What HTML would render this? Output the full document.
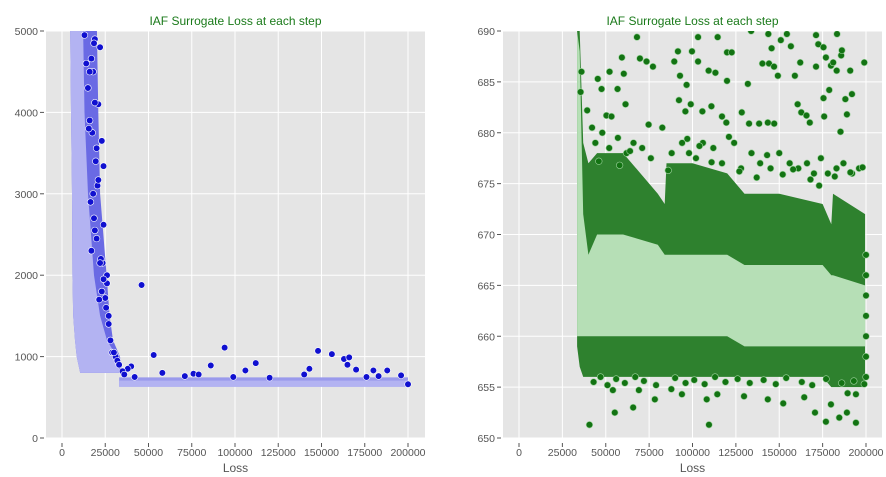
<!DOCTYPE html>
<html><head><meta charset="utf-8">
<style>
html,body{margin:0;padding:0;background:#fff;}
svg{display:block;font-family:"Liberation Sans",sans-serif;}
</style></head>
<body>
<svg id="chart" width="886" height="477"></svg>
<script>
// ---- Left panel data ----
const leftXTicks = [0,25000,50000,75000,100000,125000,150000,175000,200000];
const leftYTicks = [0,1000,2000,3000,4000,5000];
const leftRowY     = [5000,4000,3000,2000,1500,1200,1000,850,800];
const leftLavLeft  = [4600,5200,5800,6000,6500,7500,8500,10000,10500];
const leftLavRight = [12000,13000,15000,18500,22000,26000,31600,33000,33000];
const leftDotRight = [20000,21000,22000,25800,27500,29500,33500,34500,34500];
const leftFlatX = [33000,200000];
const leftFlatLo = [630,630];
const leftFlatHi = [705,705];
const leftOutX = [46000,53000,94000,112000,86000,148000,156000,163000,166000,165000,143000,106000,58000,170000,180000,188000,76000,79000,140000,200000,22000,24000,23000,21000,24000,26000,27000,28000,26000,20500,19000,18000,23500,25000,71000,99000,120000,176000,196000,183000,40000,38000,42000,17000,18500,16000,19000,20000,17500,15500,18000,21000,19500,16500,22500,20000,18500,24000,25500,21500,17000,15000,16000,14000,19000,13000,23000,22000,27000,29000,31000,30000,32000,33000,35000,36000];
const leftOutY = [1880,1020,1110,920,890,1070,1030,970,990,900,850,830,800,840,830,830,790,780,780,660,4800,3340,3650,4100,2620,1900,1500,1200,2000,3100,4900,4500,2150,1720,760,750,740,750,770,760,880,850,750,4660,4850,4500,4120,3560,3750,3800,3000,3170,3400,2900,2200,2450,2700,1950,1600,1700,2300,4300,3900,4600,2550,4950,1800,2150,1400,1050,1000,1050,950,900,820,780];
// ---- Right panel data ----
const rightXTicks = [0,25000,50000,75000,100000,125000,150000,175000,200000];
const rightYTicks = [650,655,660,665,670,675,680,685,690];
const rightBandX  = [33500,35000,37000,40000,45000,60000,80000,84000,85000,100000,120000,130000,150000,175000,180000,181000,199500];
const rightDarkHi = [690,690,679,677,678,678,674,673,677,677,676,674,674,673,671,674,672];
const rightDarkLo = [659,657,656,656,656,656,656,656,656,656,656,656,656,656,655,655,655];
const rightLiteHi = [690,688,672,668,670,670,669,668,668,668,668,667,667,667,666,666,665];
const rightLiteLo = [660,660,660,660,660,660,660,660,660,660,660,659,659,659,659,659,659];
const rightOutX = [40600,109500,194200,176900,55200,65800,170600,184600,189000,179800,78300,143400,152300,164400,54100,69100,93900,87800,129700,108200,114300,189400,194200,69700,73500,77200,68000,59300,60400,45400,47600,56800,52200,91600,89500,92800,96600,99700,103200,103200,109300,113200,114500,119900,119900,122600,131900,133800,140300,144100,145600,143700,147000,149200,150900,154400,156700,159000,162100,171200,172500,171200,175500,176900,178800,179800,181100,183100,183300,185700,186100,188100,190900,191900,199000,61400,50400,53300,74700,82600,92200,95900,99000,105700,110900,117000,119500,128400,132600,138400,143400,147100,160600,162700,165700,167600,175500,175900,185300,189000,39300,42100,36000,35500,200000,200000,200000,200000,200000,200000,200000,
 44000,48000,52000,57000,62000,66000,71000,76000,88000,94000,98000,102000,106000,112000,117000,124000,128000,134000,139000,145000,150000,156000,161000,166000,170000,174000,178000,183000,187000,192000,196000,46000,58000,64000,86000,97000,104000,111000,121000,127000,137000,143000,152000,158000,168000,173000,182000,191000,198000,
 43000,47000,51000,56000,61000,67000,72000,79000,90000,96000,101000,107000,113000,119000,126000,133000,141000,148000,154000,163000,169000,177000,186000,193000,199000];
const rightOutY = [651.3,651.3,651.5,651.6,652.5,653,652.5,652,652.5,653.3,653.8,653.8,653.4,654,654.7,654.7,654.3,654.8,654.1,653.8,654.3,654.4,654.3,687.3,687,686.5,689.4,687.4,685.8,685.3,684.3,684.3,686,688,687,685.6,684.7,688,689.4,687,686.1,685.9,689.4,685.1,687.9,687.9,684.8,690,686.8,686.8,688.3,689.7,686.5,685.6,689.1,689.7,688.5,685.6,686.9,689.6,688.7,686.5,688.4,687.4,684.2,686.6,686.9,686.1,689.7,687.6,688.1,683.3,686.1,683.8,686.9,682.8,681.7,681.6,680.8,680.5,683.2,682.1,682.8,682.1,682.6,681.6,681,682,680.9,680.9,681,680.9,682.8,682,681.7,681,683.4,681.6,680.1,681.8,682.2,680.5,686,684,668,666,664,662,660,658,656,
 679,680,678.5,679.5,678,679,678.5,677.5,678,679,678,677.5,679,678.5,677,679,676.5,678,677,676.5,678,677,676.5,677,676,677.5,676,676.5,677,676,676.5,677.2,676.8,678.2,676.3,679.4,678.7,677.1,679.6,676.2,675.6,677.8,675.9,676.4,675.4,674.8,675.7,676.1,676.6,
 655.5,656,655.2,655.8,655.4,656,655.6,655.2,655.9,655.4,655.7,655.3,656,655.5,655.8,655.4,655.7,655.3,655.9,655.5,655.2,655.8,655.4,655.6,655.3];

const NS = "http://www.w3.org/2000/svg";
const svg = document.getElementById('chart');
function mk(tag, attrs, parent){ const e=document.createElementNS(NS,tag); for(const k in attrs) e.setAttribute(k,attrs[k]); (parent||svg).appendChild(e); return e; }

function panel(cfg){
  const g = mk('g',{});
  
  
  const {L,R,T,B,y0,y1} = cfg;
  const sx = v => cfg.px0 + v/200000 * (cfg.px1 - cfg.px0);
  const sy = v => B - (v - y0)/(y1 - y0) * (B - T);
  const bg = mk('rect',{x:L,y:T,width:R-L,height:B-T,fill:'#e5e5e5'},g);
  
  
  cfg.xTicks.forEach(t=>{ const l=mk('line',{x1:sx(t),x2:sx(t),y1:T,y2:B,stroke:'#fff','stroke-width':1},g);
      });
  cfg.yTicks.forEach(t=>{ const l=mk('line',{x1:L,x2:R,y1:sy(t),y2:sy(t),stroke:'#fff','stroke-width':1},g);
      });
  const clip = mk('clipPath',{id:cfg.name+'-clip'},g);
  mk('rect',{x:L,y:T,width:R-L,height:B-T},clip);
  const marks = mk('g',{'clip-path':'url(#'+cfg.name+'-clip)'},g);
  
  
  cfg.draw(marks,sx,sy);
  cfg.xTicks.forEach(t=>{
    mk('line',{x1:sx(t),x2:sx(t),y1:B+5,y2:B+9,stroke:'#555'},g);
    const tx=mk('text',{x:sx(t),y:B+18,'font-size':10.5,fill:'#555','text-anchor':'middle'},g);
    tx.textContent=t;
     
  });
  cfg.yTicks.forEach(t=>{
    mk('line',{x1:L-6,x2:L-2,y1:sy(t),y2:sy(t),stroke:'#555'},g);
    const tx=mk('text',{x:L-8,y:sy(t)+4,'font-size':10.5,fill:'#555','text-anchor':'end'},g);
    tx.textContent=t;
     
  });
  const ti=mk('text',{x:(L+R)/2,y:25,'font-size':12,fill:'#1a7a1a','text-anchor':'middle'},g);
  ti.textContent='IAF Surrogate Loss at each step';
   
  const xl=mk('text',{x:(L+R)/2,y:472,'font-size':12,fill:'#555','text-anchor':'middle'},g);
  xl.textContent='Loss';
   
}

function poly(parent, pts, fill, name){
  const p=mk('polygon',{points:pts.map(a=>a[0].toFixed(1)+','+a[1].toFixed(1)).join(' '),fill:fill},parent);
   
}

panel({name:'left-panel',L:46,R:425,T:31,B:438,px0:62,px1:408,y0:0,y1:5000,
  xTicks:leftXTicks,yTicks:leftYTicks,
  draw:(g,sx,sy)=>{
    const n=leftRowY.length;
    const d=[]; leftRowY.forEach((y,i)=>d.push([sx(leftLavLeft[i]),sy(y)]));
    for(let i=n-1;i>=0;i--) d.push([sx(leftDotRight[i]),sy(leftRowY[i])]);
    d[0][1]-=20; d[2*n-1][1]-=20;
    poly(g,d,'#6a6ae4','dense-step-region');
    const lv=[]; leftRowY.forEach((y,i)=>lv.push([sx(leftLavLeft[i]),sy(y)]));
    for(let i=n-1;i>=0;i--) lv.push([sx(leftLavRight[i]),sy(leftRowY[i])]);
    lv[0][1]-=20; lv[2*n-1][1]-=20;
    poly(g,lv,'#b3b3f2','loss-density-band');
    poly(g,[[sx(leftFlatX[0]),sy(leftFlatHi[0]+40)],[sx(leftFlatX[1]),sy(leftFlatHi[1]+40)],[sx(leftFlatX[1]),sy(leftFlatLo[1])],[sx(leftFlatX[0]),sy(leftFlatLo[0])]],'#9a9aec','flat-band-edge');
    poly(g,[[sx(leftFlatX[0]),sy(leftFlatHi[0])],[sx(leftFlatX[1]),sy(leftFlatHi[1])],[sx(leftFlatX[1]),sy(leftFlatLo[1])],[sx(leftFlatX[0]),sy(leftFlatLo[0])]],'#b3b3f2','flat-loss-band');
    leftOutX.forEach((x,i)=>{
      const c=mk('circle',{cx:sx(x),cy:sy(leftOutY[i]),r:3.3,fill:'#1010d0',stroke:'#fff','stroke-width':0.6},g);
       
    });
  }});

panel({name:'right-panel',L:503,R:882,T:31,B:438,px0:519,px1:866,y0:650,y1:690,
  xTicks:rightXTicks,yTicks:rightYTicks,
  draw:(g,sx,sy)=>{
    const dk=[]; rightBandX.forEach((x,i)=>dk.push([sx(x),sy(rightDarkHi[i])]));
    for(let i=rightBandX.length-1;i>=0;i--) dk.push([sx(rightBandX[i]),sy(rightDarkLo[i])]);
    poly(g,dk,'#2e812e','dense-outer-band');
    const lt=[]; rightBandX.forEach((x,i)=>lt.push([sx(x),sy(rightLiteHi[i])]));
    for(let i=rightBandX.length-1;i>=0;i--) lt.push([sx(rightBandX[i]),sy(rightLiteLo[i])]);
    poly(g,lt,'#b6dfb6','dense-core-band');
    rightOutX.forEach((x,i)=>{
      const c=mk('circle',{cx:sx(x),cy:sy(rightOutY[i]),r:3.3,fill:'#137313',stroke:'#9fd49f','stroke-width':0.6},g);
       
    });
  }});
</script>
</body></html>
